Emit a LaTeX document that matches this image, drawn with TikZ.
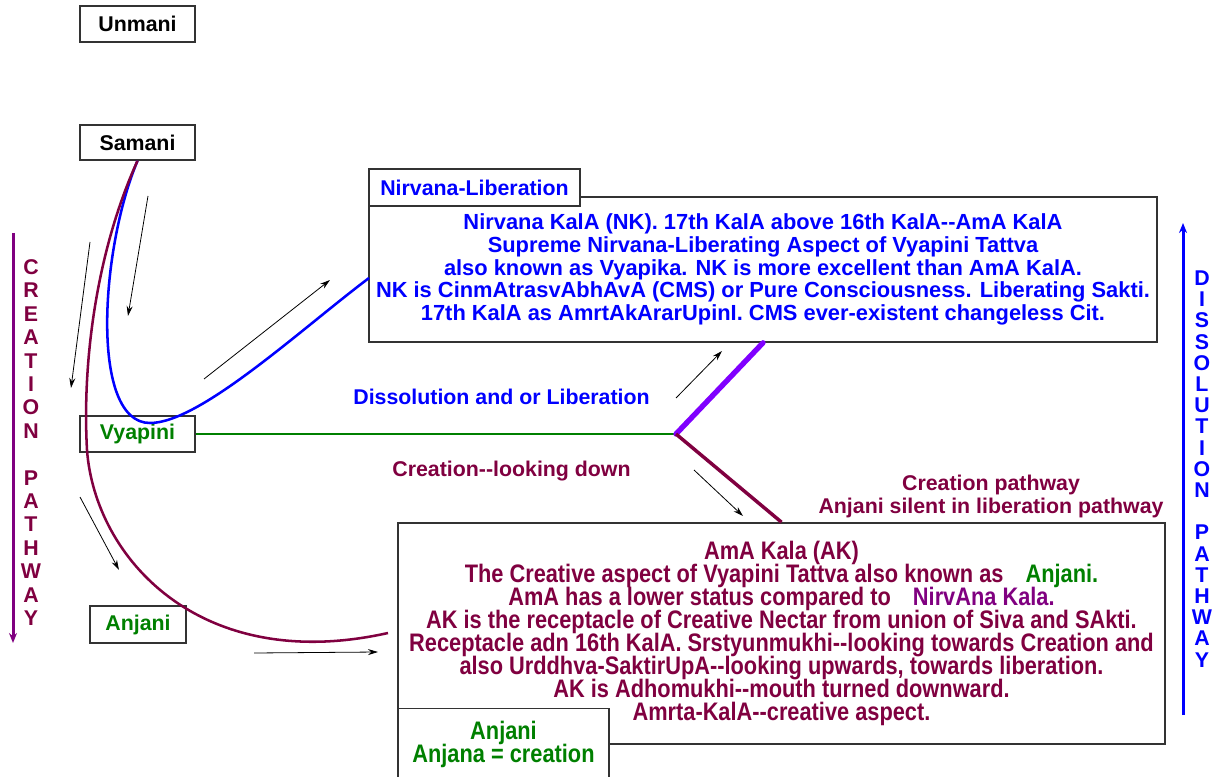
\documentclass[tikz,border=0pt]{standalone}
\usepackage{fontspec}
\setmainfont{Liberation Sans}[Ligatures=TeXOff]
\newfontfamily\narrowfont{Liberation Sans}[FakeStretch=0.86,Ligatures=TeXOff]
\usetikzlibrary{arrows.meta}

\definecolor{maroonish}{RGB}{128,0,64}
\definecolor{violetish}{RGB}{128,0,255}
\definecolor{purpleish}{RGB}{128,0,128}
\definecolor{greenish}{RGB}{0,128,0}
\definecolor{blueish}{RGB}{0,0,255}

\newcommand{\narrowset}{\narrowfont\bfseries\fontsize{19}{17.3}\selectfont\lineskiplimit=-10pt\relax}

\tikzset{every picture/.style={line width=0.75pt}}

\begin{document}
\begin{tikzpicture}[x=0.75pt,y=0.75pt,yscale=-1,xscale=1,
	box/.style={draw=black!80, line width=1.2pt, fill=white, inner sep=0pt, font=\bfseries\fontsize{16}{17}\selectfont},
	narrowtext/.style={font=\narrowset, align=center},
	boldtext/.style={font=\bfseries\fontsize{16}{17}\selectfont, align=center},
	hint/.style={-{Stealth[length=7.5pt,width=4.5pt]}, line width=0.6pt, black}]
	\useasboundingbox (0,0) rectangle (1217,777);

	% Boxes on the left
	\node[box, minimum width=86.25pt, minimum height=27pt] (unmani) at (137.5,24) {Unmani};
	\node[box, minimum width=86.25pt, minimum height=26.25pt] (samani) at (137.5,142.5) {Samani};
	\node[box, minimum width=86.25pt, minimum height=27pt, text=greenish] (vyapini) at (137.5,434) {Vyapini};
	\node[box, minimum width=72pt, minimum height=27.75pt, text=greenish] (anjani) at (138,624.5) {Anjani};

	% Nirvana box with its heading
	\node[box, minimum width=591pt, minimum height=108.75pt, text=blueish, align=center,
		font=\bfseries\fontsize{16.4}{17.1}\selectfont] (nirvana) at (763,269.5)
	{Nirvana KalA (NK). 17th KalA above 16th KalA--AmA KalA\\
	Supreme Nirvana-Liberating Aspect of Vyapini Tattva\\
	also known as Vyapika. NK is more excellent than AmA KalA.\\
	NK is CinmAtrasvAbhAvA (CMS) or Pure Consciousness. Liberating Sakti.\\
	17th KalA as AmrtAkArarUpinI. CMS ever-existent changeless Cit.};
	\node[box, minimum width=158.25pt, minimum height=27.75pt, text=blueish] (nirvanahead) at (474.5,187.5) {Nirvana-Liberation};

	% AmA box with Anjani box
	\node[box, minimum width=575.25pt, minimum height=165.75pt, text=maroonish, narrowtext] (ama) at (781.5,633.5)
	{AmA Kala (AK)\\
	The Creative aspect of Vyapini Tattva also known as\hspace{12pt} \textcolor{greenish}{Anjani.}\\
	AmA has a lower status compared to\hspace{12pt} \textcolor{purpleish}{NirvAna Kala.}\\
	AK is the receptacle of Creative Nectar from union of Siva and SAkti.\\
	Receptacle adn 16th KalA. Srstyunmukhi--looking towards Creation and\\
	also Urddhva-SaktirUpA--looking upwards, towards liberation.\\
	AK is Adhomukhi--mouth turned downward.\\
	Amrta-KalA--creative aspect.};
	\node[box, minimum width=158.25pt, minimum height=53.25pt, text=greenish, narrowtext] (anjanibox) at (503.5,744)
	{Anjani\\Anjana = creation};

	% Free labels
	\node[boldtext, text=blueish] (dissolve) at (501.5,397) {Dissolution and or Liberation};
	\node[boldtext, text=maroonish] (lookdown) at (511.5,471) {Creation--looking down};
	\node[boldtext, text=maroonish] (creapath) at (991,496.5) {Creation pathway\\Anjani silent in liberation pathway};

	% Vertical labels
	\node[font=\bfseries\fontsize{16}{17.55}\selectfont, align=center, text=maroonish] (crealetters) at (31,442.5)
	{C\\R\\E\\A\\T\\I\\O\\N\\[17.55pt]P\\A\\T\\H\\W\\A\\Y};
	\node[font=\bfseries\fontsize{16}{15.9}\selectfont, align=center, text=blueish] (disletters) at (1202,469)
	{D\\I\\S\\S\\O\\L\\U\\T\\I\\O\\N\\[15.9pt]P\\A\\T\\H\\W\\A\\Y};

	% Pathway arrows
	\draw[purpleish, line width=2.25pt, -{Stealth[length=7.5pt,width=6pt]}] (13,233) -- (13,643);
	\draw[blueish, line width=2.25pt, -{Stealth[length=7.5pt,width=6pt]}] (1183,715) -- (1183,223);

	% Fork
	\coordinate (fork) at (676,434);
	\coordinate (nkin) at (369,278);
	\coordinate (akin) at (388,633);
	\draw[greenish, line width=2.2pt] (vyapini.east) -- (fork);
	\draw[violetish, line width=4pt, line cap=round] (fork) -- (nirvana.south);
	\draw[maroonish, line width=2.6pt] (fork) -- (ama.north);

	% Curves from Samani
	\draw[blueish, line width=1.9pt] (samani.south) .. controls (100,250) and (90,423) .. (150,423)
		.. controls (200,423) and (300,330) .. (nkin);
	\draw[maroonish, line width=1.9pt] (samani.south) .. controls (97,250) and (82,360) .. (87,450)
		.. controls (95,558) and (200,675) .. (akin);

	% Small arrows
	\draw[hint] (90,242) -- (71,388);
	\draw[hint] (148,196) -- (128,316);
	\draw[hint] (204,379) -- (330,280);
	\draw[hint] (80,497) -- (119,570);
	\draw[hint] (254,653) -- (378,652);
	\draw[hint] (676,398) -- (722,351);
	\draw[hint] (694,470) -- (743,516);

\end{tikzpicture}
\end{document}
